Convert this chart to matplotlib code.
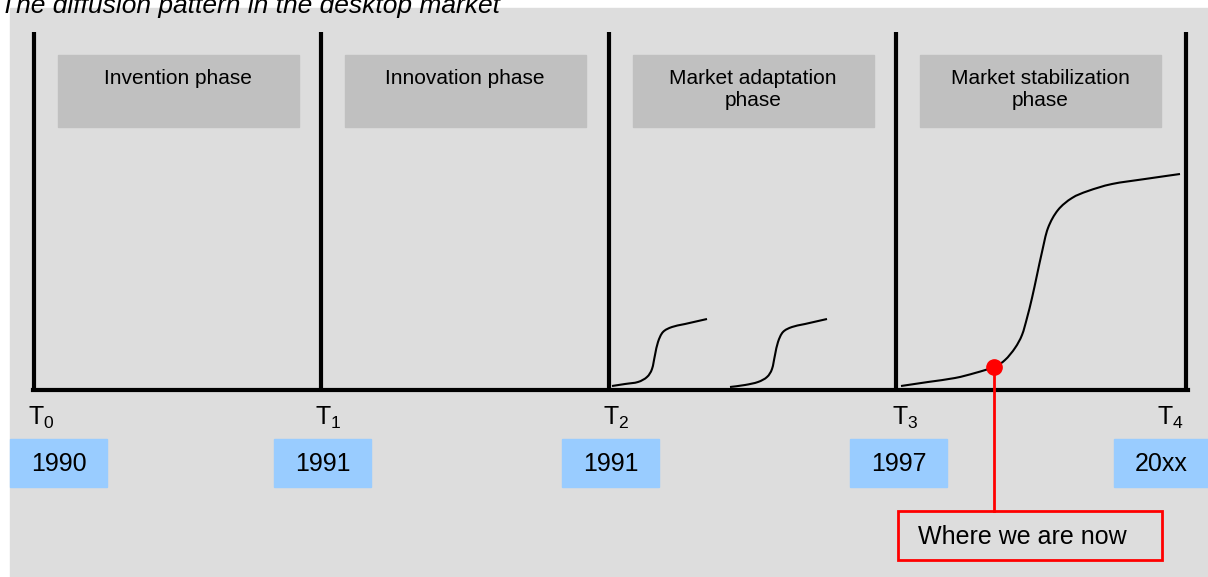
import matplotlib.pyplot as plt
from matplotlib.patches import Rectangle, PathPatch
from matplotlib.path import Path

plt.rcParams['font.family'] = ['Liberation Sans', 'DejaVu Sans']

# timeline milestones (pixel positions on the canvas)
t_x = [34, 321, 609, 896, 1186]
t_labels = ['$\\mathregular{T_0}$', '$\\mathregular{T_1}$', '$\\mathregular{T_2}$',
            '$\\mathregular{T_3}$', '$\\mathregular{T_4}$']
years = ['1990', '1991', '1991', '1997', '20xx']
year_left = [10, 274, 562, 850, 1114]
phases = ['Invention phase', 'Innovation phase', 'Market adaptation\nphase',
          'Market stabilization\nphase']

# s-curves
curve1_x = [612, 625, 638, 647, 652, 655, 658, 663, 672, 685, 707]
curve1_y = [386, 384, 382, 377, 369, 355, 342, 332, 327, 324, 319]
curve2_x = [730, 745, 758, 767, 772, 775, 778, 783, 792, 805, 827]
curve2_y = [387, 385, 382, 377, 369, 355, 342, 332, 327, 324, 319]
curve3_x = [901, 928, 955, 975, 994, 1005, 1015, 1022, 1027, 1032, 1037, 1042, 1048,
            1058, 1072, 1088, 1112, 1145, 1180]
curve3_y = [386, 382, 378, 373, 367, 360, 348, 335, 318, 298, 275, 252, 228,
            210, 198, 191, 184, 179, 174]
now_x, now_y = 994, 367


def smooth_path(xs, ys):
    # catmull-rom through the points, drawn as cubic bezier segments
    pts = list(zip(xs, ys))
    verts = [pts[0]]
    codes = [Path.MOVETO]
    for i in range(len(pts) - 1):
        p0 = pts[max(i - 1, 0)]
        p1 = pts[i]
        p2 = pts[i + 1]
        p3 = pts[min(i + 2, len(pts) - 1)]
        c1 = (p1[0] + (p2[0] - p0[0]) / 6, p1[1] + (p2[1] - p0[1]) / 6)
        c2 = (p2[0] - (p3[0] - p1[0]) / 6, p2[1] - (p3[1] - p1[1]) / 6)
        verts += [c1, c2, p2]
        codes += [Path.CURVE4] * 3
    return Path(verts, codes)


fig = plt.figure(figsize=(12.08, 5.77), dpi=100)
ax = fig.add_axes([0, 0, 1, 1])
ax.set_xlim(0, 1208)
ax.set_ylim(577, 0)
ax.axis('off')

ax.add_patch(Rectangle((10, 8), 1198, 569, color='#dddddd', zorder=0))
ax.text(0, 13, 'The diffusion pattern in the desktop market', fontsize=19,
        style='italic', va='baseline', ha='left', zorder=5)

# frame
for x in t_x:
    ax.plot([x, x], [32, 391], color='black', lw=3, solid_capstyle='butt', zorder=3)
ax.plot([t_x[0] - 1.5, t_x[-1] + 1.5], [390, 390], color='black', lw=3, zorder=3)

for i, ph in enumerate(phases):
    ax.add_patch(Rectangle((t_x[i] + 24, 55), 241, 72, color='#c0c0c0', zorder=1))
    ax.text(t_x[i] + 144, 69, ph, fontsize=15, ha='center', va='top',
            linespacing=1.2, zorder=2)

t_off = [7, 7, 7, 9, -16]
for i in range(5):
    ax.text(t_x[i] + t_off[i], 425, t_labels[i], fontsize=18, ha='center', va='baseline')
    w = 97 if i < 4 else 94
    ax.add_patch(Rectangle((year_left[i], 439), w, 48, color='#99ccff', zorder=1))
    ax.text(year_left[i] + w / 2, 464, years[i], fontsize=18,
            ha='center', va='center', zorder=2)

for cx, cy in [(curve1_x, curve1_y), (curve2_x, curve2_y), (curve3_x, curve3_y)]:
    ax.add_patch(PathPatch(smooth_path(cx, cy), fill=False, edgecolor='black',
                           lw=1.5, zorder=4))

ax.plot([now_x, now_x], [now_y, 511], color='red', lw=2, zorder=4)
ax.plot(now_x, now_y, 'o', color='red', ms=11, zorder=5)
ax.add_patch(Rectangle((898, 511), 264, 49, fill=False, edgecolor='red', lw=2, zorder=4))
ax.text(918, 537, 'Where we are now', fontsize=18, ha='left', va='center', zorder=5)

fig.savefig('out.png', dpi=100)
